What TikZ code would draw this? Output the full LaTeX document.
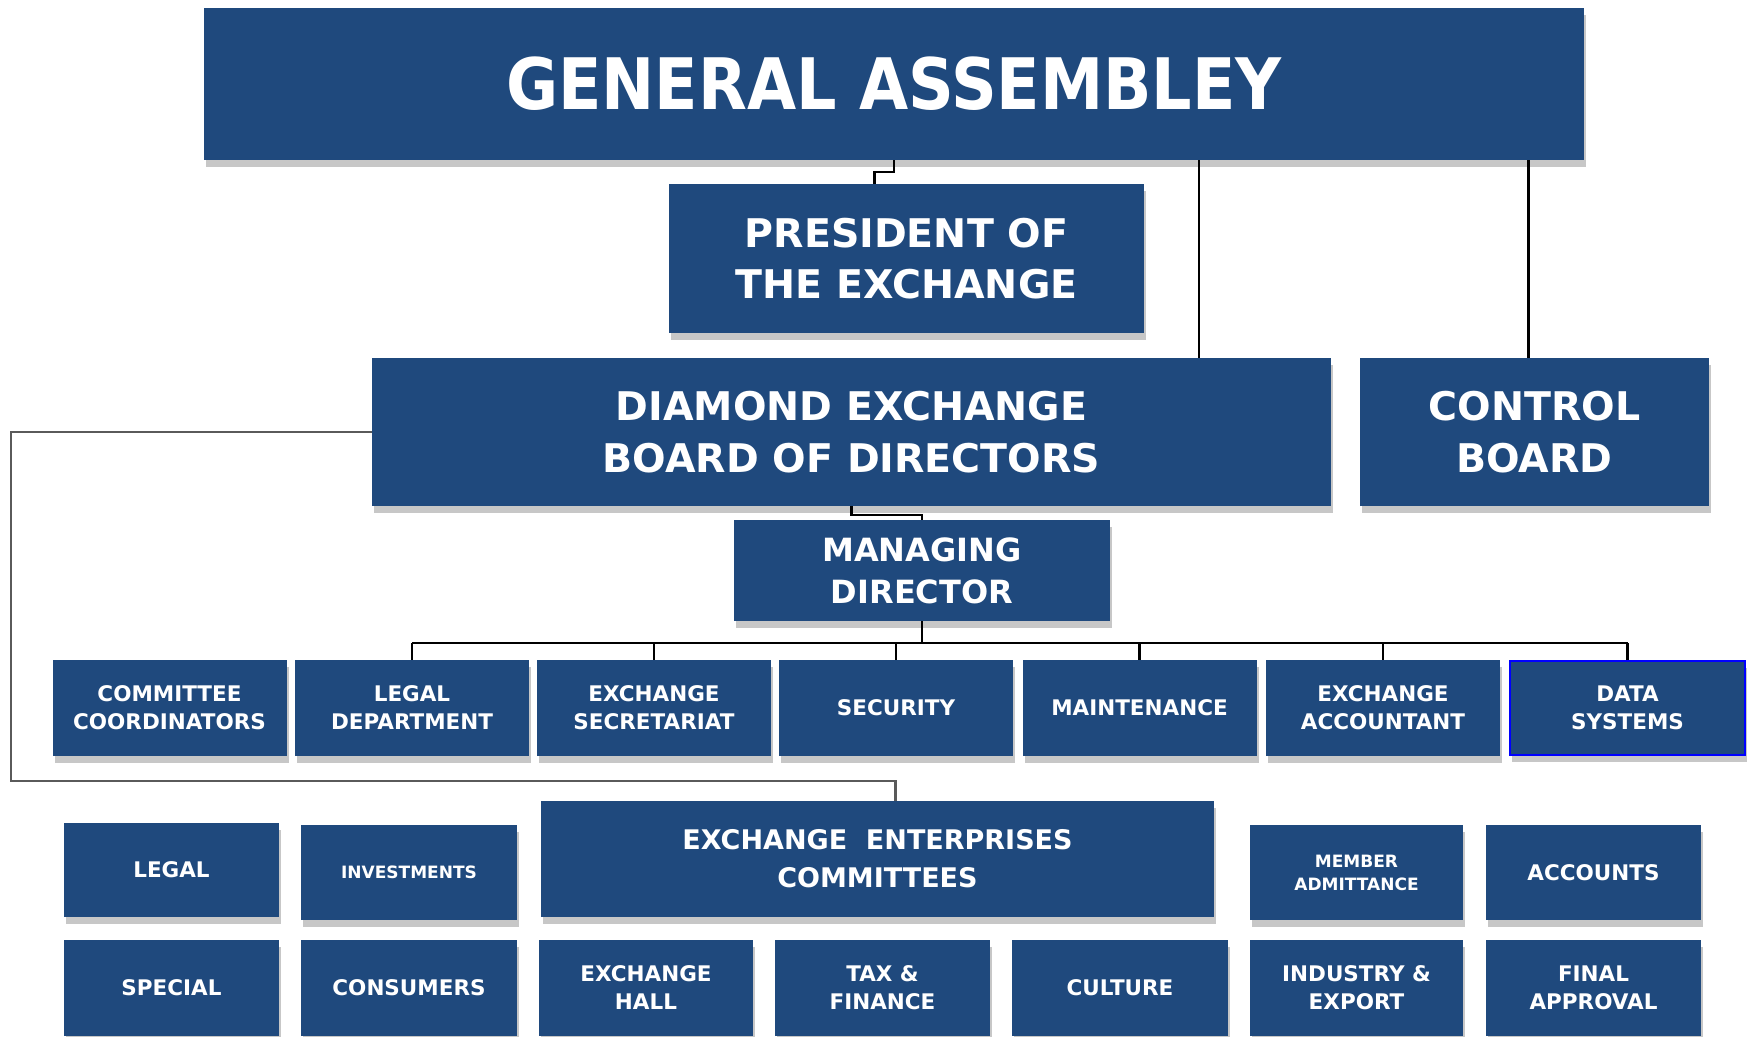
\documentclass[tikz,border=0pt]{standalone}
\usepackage{fontspec}
\setmainfont{DejaVu Sans}
\newfontfamily\gafont{DejaVu Sans Bold}[FakeStretch=0.895]
\usetikzlibrary{shadows}
\definecolor{boxblue}{HTML}{1F497D}
\definecolor{loopgray}{HTML}{5A5A5A}

\tikzset{
  box/.style={fill=boxblue, text=white, inner sep=0pt, align=center,
    font=\bfseries\fontsize{21.5}{28}\selectfont,
    drop shadow={shadow xshift=2pt, shadow yshift=-7pt, opacity=0.22, fill=black}},
  bigtext/.style={font=\bfseries\fontsize{39.5}{51.5}\selectfont},
  midtext/.style={font=\bfseries\fontsize{32}{42}\selectfont},
  eectext/.style={font=\bfseries\fontsize{27}{38}\selectfont},
  tinytext/.style={font=\bfseries\fontsize{17}{23}\selectfont},
  conn/.style={line width=2.2pt, black},
}

\begin{document}
\begin{tikzpicture}[x=1pt,y=-1pt]
\useasboundingbox (0,0) rectangle (1750,1036);
\clip (0,0) rectangle (1750,1036);

% top of the chart
\node[box, minimum width=1380, minimum height=152, font=\gafont\fontsize{71}{80}\selectfont] (ga) at (894,84) {GENERAL ASSEMBLEY};
\node[box, bigtext, minimum width=475, minimum height=149] (pres) at (906.5,258.5) {PRESIDENT OF\\THE EXCHANGE};
\node[box, bigtext, minimum width=959, minimum height=148] (deb) at (851.5,432) {DIAMOND EXCHANGE\\BOARD OF DIRECTORS};
\node[box, bigtext, minimum width=349, minimum height=148] (cb) at (1534.5,432) {CONTROL\\BOARD};
\node[box, midtext, minimum width=376, minimum height=101] (md) at (922,570.5) {MANAGING\\DIRECTOR};

% departments
\node[box, minimum width=234, minimum height=96] (coord) at (169.5,708) {COMMITTEE\\COORDINATORS};
\node[box, minimum width=234, minimum height=96] (legdept) at (412,708) {LEGAL\\DEPARTMENT};
\node[box, minimum width=234, minimum height=96] (secr) at (654,708) {EXCHANGE\\SECRETARIAT};
\node[box, minimum width=234, minimum height=96] (secur) at (896,708) {SECURITY};
\node[box, minimum width=234, minimum height=96] (maint) at (1139.5,708) {MAINTENANCE};
\node[box, minimum width=234, minimum height=96] (acct) at (1383,708) {EXCHANGE\\ACCOUNTANT};
\node[box, minimum width=235, minimum height=94, draw=blue, line width=1.5pt] (data) at (1627.5,708) {DATA\\SYSTEMS};

% committees
\node[box, minimum width=215, minimum height=94] (legal) at (171.5,870) {LEGAL};
\node[box, tinytext, minimum width=216, minimum height=95] (invest) at (409,872.5) {INVESTMENTS};
\node[box, eectext, minimum width=673, minimum height=116] (eec) at (877.5,859) {EXCHANGE\ \ ENTERPRISES\\COMMITTEES};
\node[box, tinytext, minimum width=213, minimum height=95] (member) at (1356.5,872.5) {MEMBER\\ADMITTANCE};
\node[box, minimum width=215, minimum height=95] (accts) at (1593.5,872.5) {ACCOUNTS};

\node[box, minimum width=215, minimum height=96] (special) at (171.5,988) {SPECIAL};
\node[box, minimum width=216, minimum height=96] (consum) at (409,988) {CONSUMERS};
\node[box, minimum width=214, minimum height=96] (hall) at (646,988) {EXCHANGE\\HALL};
\node[box, minimum width=215, minimum height=96] (tax) at (882.5,988) {TAX \&\\FINANCE};
\node[box, minimum width=216, minimum height=96] (culture) at (1120,988) {CULTURE};
\node[box, minimum width=213, minimum height=96] (industry) at (1356.5,988) {INDUSTRY \&\\EXPORT};
\node[box, minimum width=215, minimum height=96] (final) at (1593.5,988) {FINAL\\APPROVAL};

% connectors
\coordinate (gaDeb) at (1199,0);
\coordinate (bus) at (0,643);
\coordinate (loopL) at (11,781);
\draw[conn] (ga.south) -- ++(0,12) -| ([xshift=-32pt]pres.north);
\draw[conn] (ga.south -| gaDeb) -- (deb.north -| gaDeb);
\draw[conn] ([xshift=-6pt]cb.north) -- ([xshift=-6pt]cb.north |- ga.south);
\draw[conn] (deb.south) -- ++(0,9) -| (md.north);
\draw[conn] (md.south) -- (md.south |- bus);
\draw[conn] (legdept.north |- bus) -- (data.north |- bus);
\foreach \b in {legdept,secr,secur,maint,acct,data}
  \draw[conn] (\b.north) -- (\b.north |- bus);
\draw[line width=2.5pt, loopgray] (deb.west) -| (loopL) -| ([xshift=18pt]eec.north);
\end{tikzpicture}
\end{document}
